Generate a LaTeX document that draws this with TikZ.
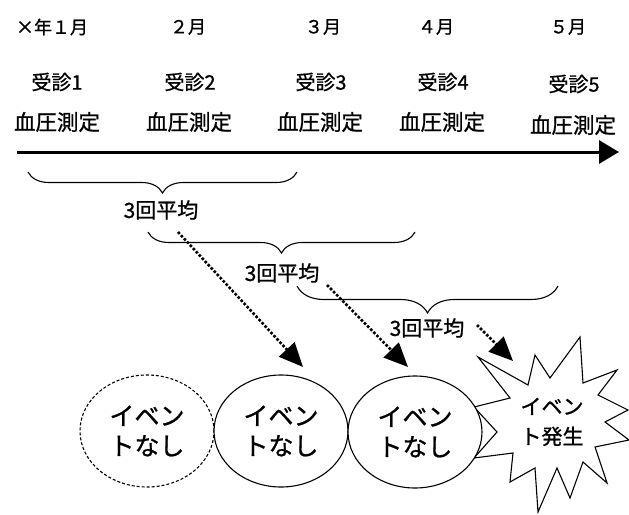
\documentclass[tikz,border=0pt]{standalone}
\usepackage{fontspec}
\setmainfont{Noto Sans CJK JP}[FakeBold=0.9]
\usetikzlibrary{shapes.geometric,arrows.meta,decorations.pathreplacing}
\tikzset{
  month/.style={inner sep=0pt, font=\fontsize{18}{22}\selectfont},
  visit/.style={inner sep=0pt, font=\fontsize{20}{24}\selectfont},
  meas/.style={inner sep=0pt, font=\fontsize{21.5}{26}\selectfont},
  avg/.style={inner sep=0pt, font=\fontsize{21}{25}\selectfont},
  bracebox/.style={decorate, line width=1.1pt, decoration={brace, mirror, amplitude=#1}},
  timeline/.style={line width=3pt, -{Triangle[length=20pt,width=23pt]}},
  dotarrow/.style={line width=2.6pt, dash pattern=on 2.6pt off 1.8pt, -{Triangle[length=24pt,width=21pt]}},
  evt/.style={ellipse, draw, line width=1.1pt, fill=white, minimum width=134pt, minimum height=112pt, inner sep=0pt, align=center, font=\fontsize{25}{30}\selectfont},
}
\begin{document}
\begin{tikzpicture}[x=1pt,y=-1pt]
\useasboundingbox[fill=white] (0,0) rectangle (629,514);

% month labels
\node[month] (m1) at (52,27) {×年１月};
\node[month] (m2) at (188,27) {２月};
\node[month] (m3) at (323,27) {３月};
\node[month] (m4) at (436,27) {４月};
\node[month] (m5) at (568,27) {５月};

% visits
\node[visit] (v1) at (57,82) {受診1};
\node[visit] (v2) at (190,82) {受診2};
\node[visit] (v3) at (321,82) {受診3};
\node[visit] (v4) at (443,82) {受診4};
\node[visit] (v5) at (574,84) {受診5};

% measurements
\node[meas] (b1) at (57,122) {血圧測定};
\node[meas] (b2) at (189,122) {血圧測定};
\node[meas] (b3) at (320,122) {血圧測定};
\node[meas] (b4) at (442,122) {血圧測定};
\node[meas] (b5) at (573,125) {血圧測定};

% timeline
\coordinate (tl0) at (17,152);
\coordinate (tl1) at (619,152);
\draw[timeline] (tl0) -- (tl1);

% braces
\coordinate (br1a) at (28,172);
\coordinate (br1b) at (297,172);
\draw[bracebox=21pt] (br1a) -- (br1b);
\coordinate (br2a) at (148,232);
\coordinate (br2b) at (415,232);
\draw[bracebox=21pt] (br2a) -- (br2b);
\coordinate (br3a) at (297,286);
\coordinate (br3b) at (558,286);
\draw[bracebox=27pt] (br3a) -- (br3b);

% averages
\node[avg] (a1) at (161,210) {3回平均};
\node[avg] (a2) at (282,273) {3回平均};
\node[avg] (a3) at (427,328) {3回平均};

% starburst
\draw[line width=1.1pt, fill=white] (580,337) -- (583,383) -- (617,370) -- (598,395)
  -- (628,410) -- (605,422) -- (629,440) -- (595,447) -- (607,483) -- (583,462)
  -- (570,498) -- (557,468) -- (538,512) -- (535,468) -- (510,482) -- (513,453)
  -- (474,458) -- (497,432) -- (474,407) -- (510,398) -- (478,357) -- (528,385)
  -- (535,355) -- (550,378) -- cycle;
\node[inner sep=0pt, align=center, font=\fontsize{21}{30}\selectfont] (e4) at (552,422) {イベン\\ト発生};

% events
\node[evt, dashed, dash pattern=on 3pt off 2pt] (e1) at (147,431) {イベン\\トなし};
\node[evt] (e2) at (281,431) {イベン\\トなし};
\node[evt] (e3) at (415,432) {イベン\\トなし};

% dotted arrows
\coordinate (d1s) at (178,232);
\coordinate (d1e) at (303,367);
\coordinate (d2s) at (327,285);
\coordinate (d2e) at (408,367);
\coordinate (d3s) at (477,325);
\coordinate (d3e) at (513,361);
\draw[dotarrow] (d1s) -- (d1e);
\draw[dotarrow] (d2s) -- (d2e);
\draw[dotarrow] (d3s) -- (d3e);
\end{tikzpicture}
\end{document}
